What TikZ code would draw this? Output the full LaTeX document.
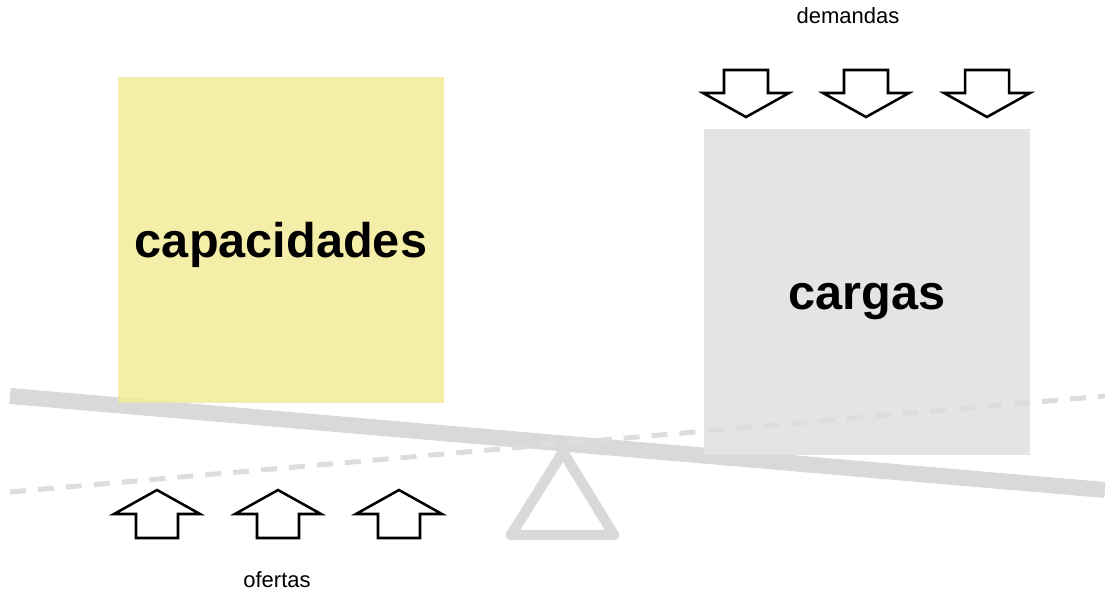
\documentclass[tikz,border=0pt]{standalone}
\usepackage{xcolor}
\usepackage{fontspec}
\setmainfont{Liberation Sans}
\usepackage{tikz}
\usetikzlibrary{positioning, calc}

\definecolor{capyellow}{RGB}{243,234,146}
\definecolor{loadgray}{RGB}{228,228,228}
\definecolor{beamgray}{RGB}{217,217,217}
\definecolor{dashgray}{RGB}{221,221,221}

\begin{document}
\begin{tikzpicture}[x=0.75pt, y=-0.75pt, thick]
  \tikzstyle{box} = [minimum width=244.5pt, minimum height=244.5pt, inner sep=0pt, text height=30pt, text depth=4.5pt, font=\fontsize{36.5}{40}\selectfont\bfseries]
  \tikzstyle{beam} = [draw=beamgray, line width=12pt]
  \tikzstyle{tilt} = [draw=dashgray, line width=3.75pt, dash pattern=on 12pt off 9pt]
  \tikzstyle{fulcrum} = [draw=beamgray, line width=7.8pt, line join=round]
  \tikzstyle{blockarrow} = [draw=black, line width=1.9pt, fill=white, line join=miter]
  \tikzstyle{caption} = [font=\fontsize{16.5}{20}\selectfont, inner sep=0pt]

  \useasboundingbox (0,0) rectangle (1105,593);

  % beam and fulcrum
  \coordinate (beamL) at (10,396);
  \coordinate (beamR) at (1105,490);
  \draw[beam] (beamL) -- (beamR);
  \draw[fulcrum] (563,452) -- (614,535) -- (511,535) -- cycle;

  % the two loads
  \node[box, fill=capyellow, fill opacity=0.8, text opacity=1] (cap) at (281,240) {capacidades};
  \node[box, fill=loadgray] (load) at (867,292) {cargas};

  % tilted dashed line
  \coordinate (tiltL) at (10,492);
  \coordinate (tiltR) at (1105,396);
  \draw[tilt] (tiltL) -- (tiltR);

  % demand arrows
  \foreach \x [count=\i] in {746,866,987} {
    \coordinate (down\i) at (\x,93);
    \draw[blockarrow] ($(down\i)+(-22,-23)$) -- ($(down\i)+(22,-23)$) -- ($(down\i)+(22,0)$)
      -- ($(down\i)+(43,0)$) -- ($(down\i)+(0,24)$) -- ($(down\i)+(-43,0)$)
      -- ($(down\i)+(-22,0)$) -- cycle;
  }

  % offer arrows
  \foreach \x [count=\i] in {157,278,399} {
    \coordinate (up\i) at (\x,514);
    \draw[blockarrow] ($(up\i)+(-21,24)$) -- ($(up\i)+(21,24)$) -- ($(up\i)+(21,0)$)
      -- ($(up\i)+(43,0)$) -- ($(up\i)+(0,-24)$) -- ($(up\i)+(-43,0)$)
      -- ($(up\i)+(-21,0)$) -- cycle;
  }

  \node[caption] (demandas) at (848,16) {demandas};
  \node[caption] (ofertas) at (277,580) {ofertas};
\end{tikzpicture}
\end{document}
